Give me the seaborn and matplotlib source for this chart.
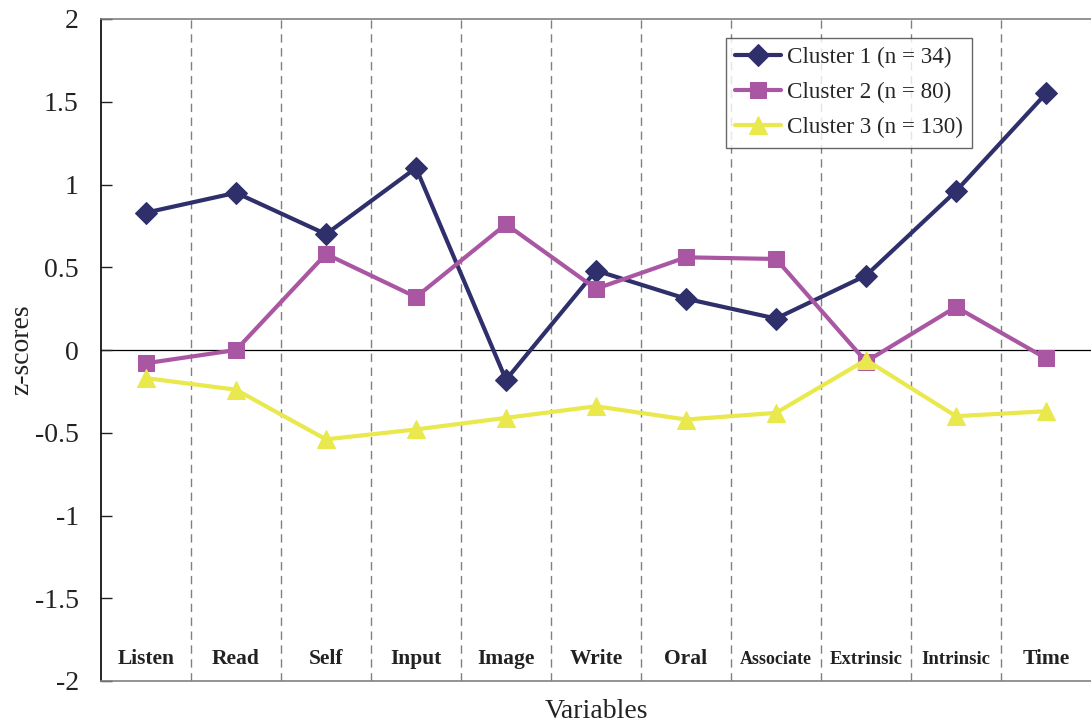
import matplotlib
matplotlib.use("Agg")
import matplotlib.pyplot as plt
import seaborn as sns
import pandas as pd

variables = ["Listen", "Read", "Self", "Input", "Image", "Write", "Oral",
             "Associate", "Extrinsic", "Intrinsic", "Time"]
cluster1 = [0.83, 0.95, 0.70, 1.10, -0.18, 0.48, 0.31, 0.19, 0.45, 0.96, 1.55]
cluster2 = [-0.08, 0.00, 0.58, 0.32, 0.76, 0.37, 0.56, 0.55, -0.07, 0.26, -0.05]
cluster3 = [-0.17, -0.24, -0.54, -0.48, -0.41, -0.34, -0.42, -0.38, -0.06, -0.40, -0.37]
series_names = ["Cluster 1 (n = 34)", "Cluster 2 (n = 80)", "Cluster 3 (n = 130)"]
y_ticks = [2, 1.5, 1, 0.5, 0, -0.5, -1, -1.5, -2]
y_tick_labels = ["2", "1.5", "1", "0.5", "0", "-0.5", "-1", "-1.5", "-2"]

sns.set_style("white")
plt.rcParams['font.family'] = ['Liberation Serif', 'DejaVu Serif']

rows = []
for name, vals in zip(series_names, [cluster1, cluster2, cluster3]):
    for i, (v, z) in enumerate(zip(variables, vals)):
        rows.append({"pos": i, "variable": v, "z": z, "cluster": name})
df = pd.DataFrame(rows)

colors = ["#2e2f6b", "#a957a3", "#e9e84c"]
palette = dict(zip(series_names, colors))
markers = dict(zip(series_names, ["D", "s", "^"]))
msizes = {series_names[0]: 11, series_names[1]: 11.5, series_names[2]: 13.5}

fig = plt.figure(figsize=(10.91, 7.27), dpi=100)
ax = fig.add_axes([101/1091, 1 - 681/727, 990/1091, (681-19)/727])

for name in series_names:
    sub = df[df["cluster"] == name]
    sns.lineplot(data=sub, x="pos", y="z", ax=ax, color=palette[name],
                 marker=markers[name], markersize=msizes[name], linewidth=3,
                 markeredgecolor=palette[name], label=name, sort=False)

ax.set_xlim(-0.5, len(variables) - 0.5)
ax.set_ylim(-2, 2)
for i in range(len(variables) - 1):
    ax.axvline(i + 0.5, color="#808080", linestyle=(0, (6, 4)), linewidth=1, zorder=0)
ax.axhline(0, color="black", linewidth=0.9, zorder=0.5)

ax.set_xticks([])
ax.set_yticks(y_ticks)
ax.set_yticklabels(y_tick_labels, fontsize=20)
ax.tick_params(axis="y", direction="in", length=8, width=1, left=True, pad=16, colors="#222222")

label_sizes = {"Associate": 13, "Extrinsic": 13.5, "Intrinsic": 13.5}
for i, v in enumerate(variables):
    fs = label_sizes.get(v, 15.5)
    ax.text(i, -1.87, v, ha="center", va="center", fontsize=fs, fontweight="bold",
            color="#222222")

ax.set_xlabel("Variables", fontsize=20, color="#222222")
ax.set_ylabel("z-scores", fontsize=20, color="#222222")
ax.xaxis.set_label_coords(0.5, (681 - 712) / 662, transform=ax.transAxes)
ax.yaxis.set_label_coords((22 - 101) / 990, 0.5, transform=ax.transAxes)
ax.xaxis.label.set_va("center")
ax.yaxis.label.set_va("center")

ax.spines["left"].set_color("black")
ax.spines["left"].set_linewidth(1.2)
for s in ["top", "bottom"]:
    ax.spines[s].set_color("#808080")
    ax.spines[s].set_linewidth(1.2)
ax.spines["right"].set_visible(False)

leg = ax.legend(loc="upper right", bbox_to_anchor=(0.880, 0.972), fontsize=16.7,
                frameon=True, fancybox=False, edgecolor="#404040",
                handlelength=2.0, handletextpad=0.25, borderpad=0.4,
                labelspacing=0.6, borderaxespad=0)
leg.get_frame().set_linewidth(1)

fig.savefig("out.png", dpi=100)
